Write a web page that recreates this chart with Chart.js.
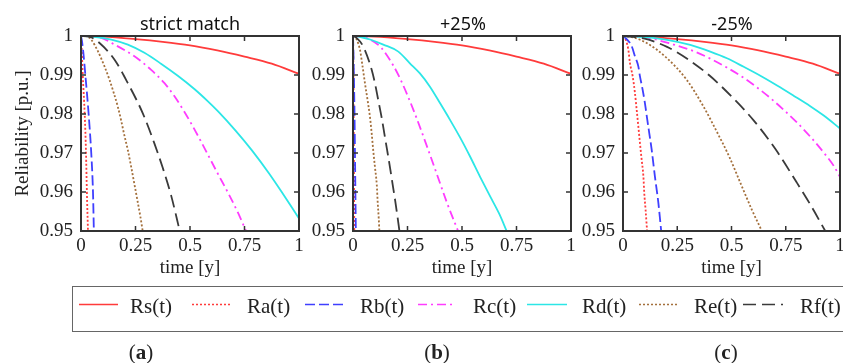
<!DOCTYPE html>
<html>
<head>
<meta charset="utf-8">
<script src="https://cdn.jsdelivr.net/npm/chart.js@4.4.0/dist/chart.umd.min.js"></script>
<style>
  html, body { margin: 0; padding: 0; background: #fff; }
  body { width: 843px; height: 363px; overflow: hidden; position: relative; }
  canvas { position: absolute; top: 0; }
  .ttl { position: absolute; top: 13px; font-family: 'Noto Sans', sans-serif; font-size: 18px; line-height: 20px; color: #111; transform: translateX(-50%); white-space: nowrap; }
  #legendBox { position: absolute; left: 72px; top: 286px; width: 800px; height: 46px; border: 1.5px solid #666; box-sizing: border-box; }
  .lab { position: absolute; top: 296px; font-family: 'Liberation Serif', serif; font-size: 21px; line-height: 21px; color: #222; white-space: nowrap; }
  .sub { position: absolute; top: 342px; font-family: 'Liberation Serif', serif; font-size: 21px; line-height: 21px; color: #222; transform: translateX(-50%); }
  #legendLines { position: absolute; left: 0; top: 0; }
</style>
</head>
<body>
<canvas id="chartA" width="310" height="280" style="left:0px"></canvas>
<canvas id="chartB" width="275" height="280" style="left:305px"></canvas>
<canvas id="chartC" width="280" height="280" style="left:575px"></canvas>

<div class="ttl" style="left:190px">strict match</div>
<div class="ttl" style="left:463px">+25%</div>
<div class="ttl" style="left:732px">-25%</div>

<div id="legendBox"></div>
<svg id="legendLines" width="843" height="363"></svg>

<div class="sub" style="left:141px">(<b>a</b>)</div>
<div class="sub" style="left:437px">(<b>b</b>)</div>
<div class="sub" style="left:726px">(<b>c</b>)</div>

<script>
// tick labels shared by the three panels
const xTicks = [0, 0.25, 0.5, 0.75, 1];
const yTicks = [0.95, 0.96, 0.97, 0.98, 0.99, 1];

const names = ['Rs(t)', 'Ra(t)', 'Rb(t)', 'Rc(t)', 'Rd(t)', 'Re(t)', 'Rf(t)'];

// [time, reliability] pairs
// Rs is the same in every panel
const rs = [[0,1],[0.1,0.99985],[0.25,0.9992],[0.375,0.9985],[0.5,0.9976],[0.625,0.9963],[0.75,0.9947],[0.875,0.9929],[1,0.9903]];

// (a) strict match
const aRa = [[0,1],[0.003,0.997],[0.008,0.99],[0.017,0.98],[0.023,0.97],[0.027,0.96],[0.032,0.95]];
const aRb = [[0,1],[0.005,0.9985],[0.011,0.9956],[0.02,0.99],[0.035,0.98],[0.047,0.97],[0.055,0.96],[0.059,0.95]];
const aRc = [[0,1],[0.05,0.99995],[0.093,0.9995],[0.154,0.9978],[0.245,0.9948],[0.322,0.9913],[0.383,0.9879],[0.428,0.9846],[0.474,0.9806],[0.512,0.9769],[0.55,0.973],[0.62,0.9655],[0.68,0.9592],[0.72,0.9547],[0.757,0.95]];
const aRd = [[0,1],[0.06,0.9998],[0.139,0.9991],[0.215,0.9978],[0.291,0.9957],[0.367,0.9929],[0.444,0.9898],[0.52,0.9864],[0.581,0.9833],[0.63,0.9806],[0.708,0.9758],[0.785,0.9706],[0.862,0.9648],[0.923,0.9598],[0.969,0.9559],[1,0.9532]];
const aRe = [[0,1],[0.025,0.99995],[0.047,0.99905],[0.078,0.99604],[0.108,0.99217],[0.131,0.98873],[0.151,0.98528],[0.169,0.98184],[0.184,0.9784],[0.197,0.975],[0.215,0.9707],[0.23,0.9665],[0.245,0.962],[0.26,0.9575],[0.272,0.9538],[0.283,0.95]];
const aRf = [[0,1],[0.04,0.9998],[0.085,0.9982],[0.154,0.9939],[0.215,0.9879],[0.284,0.9801],[0.337,0.9724],[0.375,0.9662],[0.413,0.9592],[0.453,0.95]];

// (b) +25%
const bRa = [[0,1],[0.001,0.995],[0.002,0.99],[0.003,0.98],[0.004,0.97],[0.005,0.96],[0.006,0.95]];
const bRb = [[0,1],[0.002,0.996],[0.004,0.99],[0.007,0.98],[0.009,0.97],[0.011,0.96],[0.013,0.95]];
const bRc = [[0,1],[0.03,0.9999],[0.078,0.9991],[0.131,0.9969],[0.185,0.9924],[0.216,0.9891],[0.261,0.9833],[0.292,0.9789],[0.338,0.9719],[0.384,0.9647],[0.43,0.9574],[0.482,0.95]];
const bRd = [[0,1],[0.03,0.9998],[0.078,0.9991],[0.139,0.9978],[0.208,0.996],[0.261,0.993],[0.307,0.9904],[0.353,0.987],[0.399,0.9828],[0.445,0.9785],[0.491,0.974],[0.537,0.9691],[0.583,0.9639],[0.628,0.959],[0.67,0.9545],[0.705,0.95]];
const bRe = [[0,1],[0.008,0.9998],[0.017,0.99905],[0.032,0.99646],[0.044,0.99214],[0.055,0.98782],[0.067,0.98351],[0.078,0.97919],[0.086,0.97487],[0.093,0.97055],[0.101,0.96624],[0.109,0.96192],[0.113,0.9576],[0.118,0.95328],[0.121,0.95]];
const bRf = [[0,1],[0.015,0.9996],[0.047,0.9973],[0.086,0.9913],[0.101,0.9878],[0.116,0.9835],[0.131,0.9792],[0.144,0.9749],[0.157,0.9706],[0.17,0.9662],[0.182,0.9619],[0.194,0.9576],[0.205,0.9533],[0.213,0.95]];

// (c) -25%
const cRa = [[0,1],[0.009,0.9995],[0.0246,0.9965],[0.032,0.9931],[0.0445,0.9897],[0.055,0.9854],[0.063,0.9811],[0.0707,0.9768],[0.078,0.9726],[0.086,0.9683],[0.094,0.964],[0.098,0.9597],[0.104,0.9555],[0.111,0.95]];
const cRb = [[0,1],[0.009,0.9996],[0.04,0.9974],[0.055,0.9948],[0.0707,0.9922],[0.078,0.9897],[0.0906,0.9862],[0.101,0.9828],[0.112,0.9785],[0.121,0.9751],[0.132,0.9709],[0.147,0.964],[0.163,0.9572],[0.176,0.95]];
const cRc = [[0,1],[0.1,0.9997],[0.233,0.9978],[0.326,0.9961],[0.402,0.9942],[0.479,0.9919],[0.556,0.9893],[0.618,0.9868],[0.679,0.9841],[0.74,0.9811],[0.802,0.9778],[0.863,0.9742],[0.925,0.9701],[0.971,0.9667],[1,0.9639]];
const cRd = [[0,1],[0.1,0.9997],[0.203,0.999],[0.31,0.9977],[0.402,0.996],[0.479,0.9943],[0.556,0.9921],[0.633,0.9898],[0.71,0.9873],[0.786,0.9847],[0.863,0.982],[0.925,0.9796],[1,0.9763]];
const cRe = [[0,1],[0.05,0.9996],[0.109,0.9982],[0.201,0.9944],[0.293,0.9888],[0.37,0.982],[0.432,0.9755],[0.49,0.969],[0.545,0.9618],[0.595,0.9553],[0.64,0.95]];
const cRf = [[0,1],[0.1,0.9993],[0.203,0.9972],[0.3,0.994],[0.4,0.9898],[0.5,0.9845],[0.6,0.9785],[0.7,0.9712],[0.8,0.9625],[0.865,0.9566],[0.932,0.95]];

// line look for each series, same order as names
const looks = [
  { color: '#ff3b3b', dash: [] },
  { color: '#ff3b3b', dash: [2, 2] },
  { color: '#3f3fff', dash: [10, 4] },
  { color: '#ff3cff', dash: [9, 4, 2, 4] },
  { color: '#2ce6e6', dash: [] },
  { color: '#a4703c', dash: [2, 2] },
  { color: '#3a3a3a', dash: [13, 6] }
];

const serif = 'Liberation Serif';
const fmt = v => String(+(+v).toFixed(4));

// box round the plot area and short ticks pointing inwards on all four sides
const frameTicks = {
  id: 'frameTicks',
  afterDraw(chart) {
    const { ctx, chartArea: a, scales: { x, y } } = chart;
    ctx.save();
    ctx.strokeStyle = '#333';
    ctx.lineWidth = 1.5;
    ctx.beginPath();
    x.ticks.forEach(t => {
      const px = x.getPixelForValue(t.value);
      ctx.moveTo(px, a.bottom); ctx.lineTo(px, a.bottom - 5);
      ctx.moveTo(px, a.top); ctx.lineTo(px, a.top + 5);
    });
    y.ticks.forEach(t => {
      const py = y.getPixelForValue(t.value);
      ctx.moveTo(a.left, py); ctx.lineTo(a.left + 5, py);
      ctx.moveTo(a.right, py); ctx.lineTo(a.right - 5, py);
    });
    ctx.stroke();
    ctx.lineWidth = 2;
    ctx.strokeRect(a.left, a.top, a.right - a.left, a.bottom - a.top);
    ctx.restore();
  }
};

function makePanel(id, series, yWidth, padRight, yTitle) {
  new Chart(document.getElementById(id), {
    type: 'line',
    data: {
      datasets: series.map((pts, i) => ({
        label: names[i],
        data: pts.map(p => ({ x: p[0], y: p[1] })),
        borderColor: looks[i].color,
        borderDash: looks[i].dash,
        borderWidth: 1.8,
        pointRadius: 0,
        fill: false,
        cubicInterpolationMode: 'monotone'
      })).reverse()
    },
    plugins: [frameTicks],
    options: {
      responsive: false,
      animation: false,
      devicePixelRatio: 1,
      layout: { padding: { top: 36, right: padRight, bottom: 0, left: 0 } },
      plugins: { legend: { display: false }, tooltip: { enabled: false } },
      scales: {
        x: {
          type: 'linear', min: 0, max: 1,
          afterBuildTicks: s => { s.ticks = xTicks.map(v => ({ value: v })); },
          afterFit: s => { s.height = 49; },
          grid: { display: false, drawTicks: false },
          border: { display: false },
          ticks: { callback: fmt, padding: 4, maxRotation: 0, color: '#222', font: { family: serif, size: 19 } },
          title: { display: true, text: 'time [y]', color: '#222', padding: { top: 0, bottom: 1 }, font: { family: serif, size: 19 } }
        },
        y: {
          type: 'linear', min: 0.95, max: 1,
          afterBuildTicks: s => { s.ticks = yTicks.map(v => ({ value: v })); },
          afterFit: s => { s.width = yWidth; },
          grid: { display: false, drawTicks: false },
          border: { display: false },
          ticks: { callback: fmt, padding: 8, color: '#222', font: { family: serif, size: 19 } },
          title: { display: !!yTitle, text: yTitle || '', color: '#222', padding: { top: 12, bottom: 0 }, font: { family: serif, size: 19 } }
        }
      }
    }
  });
}

makePanel('chartA', [rs, aRa, aRb, aRc, aRd, aRe, aRf], 81, 11, 'Reliability [p.u.]');
makePanel('chartB', [rs, bRa, bRb, bRc, bRd, bRe, bRf], 48, 9);
makePanel('chartC', [rs, cRa, cRb, cRc, cRd, cRe, cRf], 48, 15);

// legend: sample line + label for each series
const legendX = [[79, 118, 130], [192, 232, 247], [305, 345, 360], [418, 453, 473], [527, 567, 582], [639, 678, 694], [743, 783, 800]];
const svg = document.getElementById('legendLines');
names.forEach((n, i) => {
  const ln = document.createElementNS('http://www.w3.org/2000/svg', 'line');
  ln.setAttribute('x1', legendX[i][0]);
  ln.setAttribute('x2', legendX[i][1]);
  ln.setAttribute('y1', 304.5);
  ln.setAttribute('y2', 304.5);
  ln.setAttribute('stroke', looks[i].color);
  ln.setAttribute('stroke-width', 1.6);
  if (looks[i].dash.length) ln.setAttribute('stroke-dasharray', looks[i].dash.join(' '));
  svg.appendChild(ln);
  const d = document.createElement('div');
  d.className = 'lab';
  d.style.left = legendX[i][2] + 'px';
  d.textContent = n;
  document.body.appendChild(d);
});
</script>
</body>
</html>
